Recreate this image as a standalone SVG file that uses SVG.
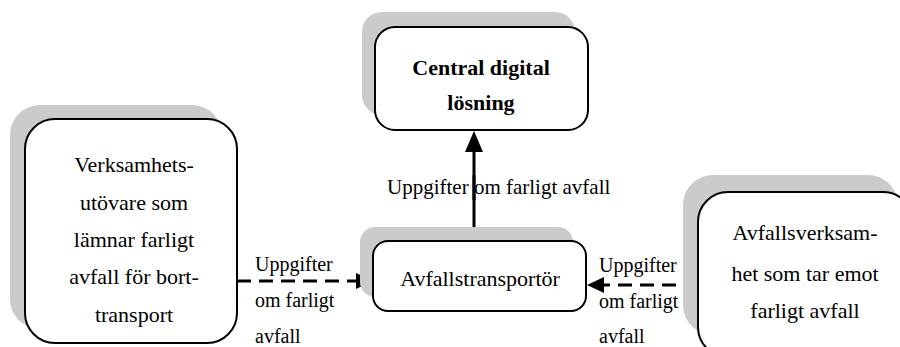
<svg xmlns="http://www.w3.org/2000/svg" width="900" height="347" viewBox="0 0 900 347">
  <!-- connectors: solid upward arrow, two dashed arrows into the carrier -->
  <g id="connectors" stroke="#000" stroke-width="3" fill="none">
    <line x1="474" y1="241" x2="474" y2="150"/>
    <line x1="237" y1="281" x2="360" y2="281" stroke-dasharray="14 8"/>
    <line x1="698" y1="285" x2="600" y2="285" stroke-dasharray="14 8"/>
    <g fill="#000" stroke="none">
      <polygon points="474,131 465,152 483,152"/>
      <polygon points="373,281 356,273 356,289"/>
      <polygon points="587,285 604,277 604,293"/>
    </g>
  </g>

  <!-- central digital solution -->
  <g id="central">
    <rect x="362" y="12" width="213" height="103" rx="20" fill="#cbcbcb"/>
    <rect x="375" y="27" width="213" height="103" rx="20" fill="#fff" stroke="#000" stroke-width="2"/>
    <text font-family="Liberation Serif" font-size="22" font-weight="bold" text-anchor="middle" x="481" y="75">Central digital</text>
    <text font-family="Liberation Serif" font-size="22" font-weight="bold" text-anchor="middle" x="481" y="110">lösning</text>
  </g>

  <!-- label on the vertical connector, with the line drawn over it -->
  <g id="central-label">
    <text font-family="Liberation Serif" font-size="21" x="387" y="194">Uppgifter om farligt avfall</text>
    <line x1="474" y1="175" x2="474" y2="200" stroke="#000" stroke-width="3"/>
  </g>

  <!-- waste producer -->
  <g id="producer">
    <rect x="10" y="105" width="212" height="224" rx="30" fill="#cbcbcb"/>
    <rect x="25" y="119" width="212" height="224" rx="30" fill="#fff" stroke="#000" stroke-width="2"/>
    <text font-family="Liberation Serif" font-size="22" text-anchor="middle" x="134" y="172">Verksamhets-</text>
    <text font-family="Liberation Serif" font-size="22" text-anchor="middle" x="134" y="210">utövare som</text>
    <text font-family="Liberation Serif" font-size="22" text-anchor="middle" x="134" y="247">lämnar farligt</text>
    <text font-family="Liberation Serif" font-size="22" text-anchor="middle" x="134" y="284">avfall för bort-</text>
    <text font-family="Liberation Serif" font-size="22" text-anchor="middle" x="134" y="322">transport</text>
  </g>

  <!-- waste carrier -->
  <g id="carrier">
    <rect x="360" y="227" width="213" height="70" rx="15" fill="#cbcbcb"/>
    <rect x="373" y="241" width="213" height="70" rx="15" fill="#fff" stroke="#000" stroke-width="2"/>
    <text font-family="Liberation Serif" font-size="22" text-anchor="middle" x="480" y="286">Avfallstransportör</text>
  </g>

  <!-- waste receiver -->
  <g id="receiver">
    <rect x="683" y="175" width="215" height="160" rx="30" fill="#cbcbcb"/>
    <rect x="698" y="192" width="215" height="165" rx="30" fill="#fff" stroke="#000" stroke-width="2"/>
    <text font-family="Liberation Serif" font-size="22" text-anchor="middle" x="805" y="240">Avfallsverksam-</text>
    <text font-family="Liberation Serif" font-size="22" text-anchor="middle" x="805" y="281">het som tar emot</text>
    <text font-family="Liberation Serif" font-size="22" text-anchor="middle" x="805" y="318">farligt avfall</text>
  </g>

  <!-- connector labels -->
  <g id="labels">
    <text font-family="Liberation Serif" font-size="20" x="255" y="271">Uppgifter</text>
    <text font-family="Liberation Serif" font-size="20" x="255" y="307">om farligt</text>
    <text font-family="Liberation Serif" font-size="20" x="255" y="343">avfall</text>
    <text font-family="Liberation Serif" font-size="20" x="599" y="272">Uppgifter</text>
    <text font-family="Liberation Serif" font-size="20" x="599" y="308">om farligt</text>
    <text font-family="Liberation Serif" font-size="20" x="599" y="343">avfall</text>
  </g>
</svg>
